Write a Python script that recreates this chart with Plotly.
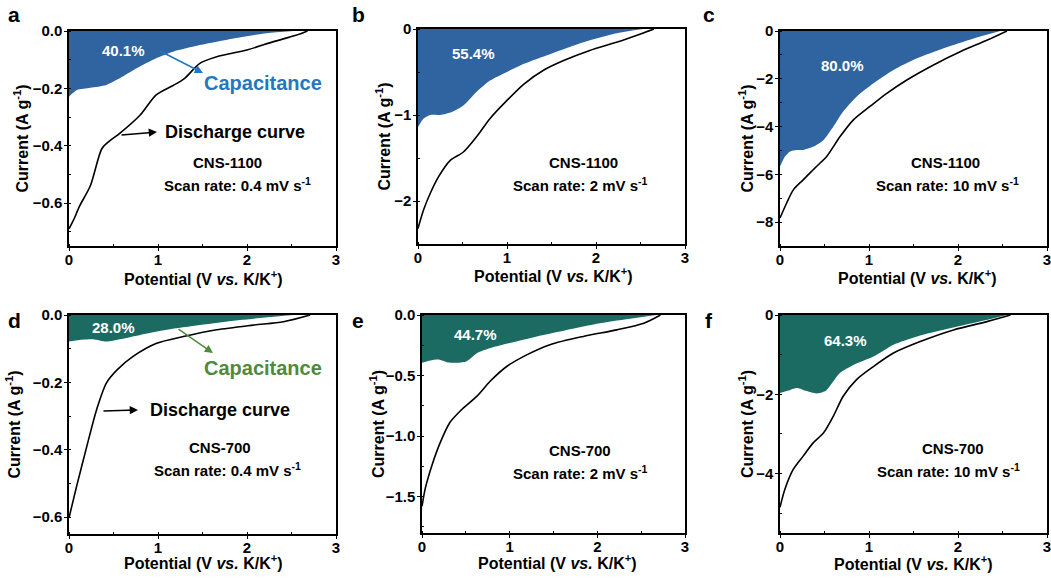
import plotly.graph_objects as go

W, H = 1051, 579

# ---------------- data ----------------
# Panel a: CNS-1100, 0.4 mV/s
a_dis_x = [0, 0.05, 0.12, 0.24, 0.37, 0.45, 0.57, 0.80, 0.98, 1.17, 1.30, 1.47, 1.66, 2.00, 2.30, 2.55, 2.68]
a_dis_y = [-0.69, -0.66, -0.61, -0.54, -0.41, -0.385, -0.357, -0.293, -0.223, -0.19, -0.165, -0.113, -0.09, -0.066, -0.037, -0.015, 0]
a_cap_x = [0, 0.09, 0.24, 0.42, 0.57, 0.76, 0.98, 1.17, 1.47, 1.85, 2.22, 2.52]
a_cap_y = [-0.229, -0.206, -0.198, -0.188, -0.165, -0.13, -0.095, -0.072, -0.049, -0.026, -0.008, 0]

# Panel b: CNS-1100, 2 mV/s
b_dis_x = [0, 0.064, 0.138, 0.23, 0.36, 0.51, 0.66, 0.81, 1.0, 1.19, 1.41, 1.63, 1.93, 2.23, 2.5, 2.65]
b_dis_y = [-2.32, -2.10, -1.91, -1.72, -1.53, -1.43, -1.25, -1.04, -0.83, -0.64, -0.48, -0.37, -0.25, -0.155, -0.058, 0]
b_cap_x = [0, 0.064, 0.14, 0.25, 0.38, 0.51, 0.66, 0.81, 1.0, 1.19, 1.49, 1.86, 2.23, 2.53]
b_cap_y = [-1.14, -1.04, -1.0, -1.0, -0.965, -0.89, -0.73, -0.6, -0.5, -0.405, -0.29, -0.155, -0.05, 0]

# Panel c: CNS-1100, 10 mV/s
c_dis_x = [0, 0.075, 0.15, 0.26, 0.41, 0.525, 0.675, 0.825, 1.01, 1.2, 1.425, 1.725, 2.03, 2.33, 2.55]
c_dis_y = [-7.83, -7.2, -6.65, -6.23, -5.67, -5.25, -4.42, -3.72, -3.16, -2.61, -2.05, -1.42, -0.86, -0.38, 0]
c_cap_x = [0, 0.056, 0.11, 0.19, 0.26, 0.375, 0.49, 0.6, 0.71, 0.86, 1.05, 1.275, 1.54, 1.84, 2.175, 2.475]
c_cap_y = [-5.67, -5.25, -5.05, -4.98, -4.98, -4.84, -4.56, -4.0, -3.37, -2.75, -2.19, -1.63, -1.14, -0.72, -0.31, 0]

# Panel d: CNS-700, 0.4 mV/s
d_dis_x = [0, 0.086, 0.2, 0.31, 0.42, 0.54, 0.72, 0.985, 1.285, 1.66, 2.07, 2.41, 2.71]
d_dis_y = [-0.602, -0.508, -0.39, -0.281, -0.202, -0.163, -0.123, -0.084, -0.064, -0.044, -0.03, -0.02, 0]
d_cap_x = [0, 0.12, 0.27, 0.42, 0.57, 0.8, 1.1, 1.47, 1.92, 2.3, 2.52]
d_cap_y = [-0.079, -0.074, -0.072, -0.079, -0.072, -0.059, -0.044, -0.03, -0.015, -0.005, 0]

# Panel e: CNS-700, 2 mV/s
e_dis_x = [0, 0.038, 0.114, 0.21, 0.32, 0.44, 0.63, 0.78, 0.97, 1.2, 1.46, 1.84, 2.22, 2.53, 2.72]
e_dis_y = [-1.58, -1.43, -1.24, -1.05, -0.886, -0.79, -0.668, -0.545, -0.423, -0.327, -0.245, -0.177, -0.123, -0.068, 0]
e_cap_x = [0, 0.095, 0.19, 0.285, 0.4, 0.51, 0.63, 0.78, 1.0, 1.31, 1.65, 2.03, 2.41, 2.68]
e_cap_y = [-0.395, -0.376, -0.368, -0.39, -0.395, -0.382, -0.314, -0.273, -0.232, -0.177, -0.123, -0.068, -0.027, 0]

# Panel f: CNS-700, 10 mV/s
f_dis_x = [0, 0.056, 0.15, 0.26, 0.375, 0.49, 0.6, 0.71, 0.86, 1.05, 1.275, 1.575, 1.95, 2.325, 2.59]
f_dis_y = [-4.85, -4.39, -3.89, -3.56, -3.22, -2.97, -2.55, -2.05, -1.63, -1.3, -0.96, -0.67, -0.377, -0.167, 0]
f_cap_x = [0, 0.075, 0.19, 0.3, 0.41, 0.51, 0.6, 0.675, 0.825, 1.05, 1.275, 1.54, 1.91, 2.29, 2.55]
f_cap_y = [-1.97, -1.92, -1.84, -1.92, -1.98, -1.92, -1.67, -1.46, -1.26, -1.05, -0.75, -0.54, -0.335, -0.14, 0]

panel_letters = ["a", "b", "c", "d", "e", "f"]
cap_percent = ["40.1%", "55.4%", "80.0%", "28.0%", "44.7%", "64.3%"]
sample_names = ["CNS-1100", "CNS-1100", "CNS-1100", "CNS-700", "CNS-700", "CNS-700"]
scan_rates = ["0.4", "2", "10", "0.4", "2", "10"]
y_ranges = [[-0.75, 0], [-2.5, 0], [-9, 0], [-0.65, 0], [-1.8, 0], [-5.5, 0]]
y_dticks = [0.2, 1, 2, 0.2, 0.5, 2]
y_formats = [".1f", "d", "d", ".1f", ".1f", "d"]
x_title = "Potential (V <i>vs.</i> K/K<sup>+</sup>)"
y_title = "Current (A g<sup>-1</sup>)"

dis_x = [a_dis_x, b_dis_x, c_dis_x, d_dis_x, e_dis_x, f_dis_x]
dis_y = [a_dis_y, b_dis_y, c_dis_y, d_dis_y, e_dis_y, f_dis_y]
cap_x = [a_cap_x, b_cap_x, c_cap_x, d_cap_x, e_cap_x, f_cap_x]
cap_y = [a_cap_y, b_cap_y, c_cap_y, d_cap_y, e_cap_y, f_cap_y]

# ---------------- layout geometry (pixels) ----------------
boxes = [(69, 31, 336, 246), (418, 29, 685, 244), (780, 31, 1047, 246),
         (69, 315, 336, 534), (422, 315, 685, 533), (780, 315, 1047, 533)]
BLUE_FILL = "#2f64a0"
TEAL_FILL = "#1b6b63"
fills = [BLUE_FILL] * 3 + [TEAL_FILL] * 3

FONT = "Arial, Liberation Sans, sans-serif"

def px(x, y):
    return x / W, 1 - y / H

fig = go.Figure()
layout = dict(width=W, height=H, margin=dict(l=0, r=0, t=0, b=0, autoexpand=False),
              paper_bgcolor="white", plot_bgcolor="white", showlegend=False,
              font=dict(family=FONT, color="black", size=13, weight="bold"))
annotations = []

def add_text(x, y, text, size, color="black", xanchor="center", angle=0):
    X, Y = px(x, y)
    annotations.append(dict(x=X, y=Y, xref="paper", yref="paper", text=text, showarrow=False,
                            xanchor=xanchor, yanchor="middle", textangle=angle,
                            font=dict(family=FONT, size=size, color=color, weight="bold")))

xtitle_pos = [(203, 278), (553, 275), (917, 277), (203, 562), (557, 562), (913, 563)]
ytitle_pos = [21, 384, 746, 13, 377, 746]

for i in range(6):
    xn = "x" if i == 0 else f"x{i+1}"
    yn = "y" if i == 0 else f"y{i+1}"
    xa = "xaxis" if i == 0 else f"xaxis{i+1}"
    ya = "yaxis" if i == 0 else f"yaxis{i+1}"
    l, t, r, b = boxes[i]
    fig.add_trace(go.Scatter(x=cap_x[i], y=cap_y[i], mode="lines", fill="tozeroy",
                             fillcolor=fills[i],
                             line=dict(width=0, color=fills[i], shape="spline", smoothing=0.7),
                             xaxis=xn, yaxis=yn, hoverinfo="skip"))
    fig.add_trace(go.Scatter(x=dis_x[i], y=dis_y[i], mode="lines",
                             line=dict(color="black", width=1.6, shape="spline", smoothing=0.8),
                             xaxis=xn, yaxis=yn))
    axcommon = dict(showline=True, linecolor="black", linewidth=1.5, mirror=True,
                    showgrid=False, zeroline=False, ticks="outside", ticklen=3,
                    tickwidth=1.2, tickcolor="black", automargin=False,
                    ticklabeloverflow="allow",
                    tickfont=dict(family=FONT, size=15, color="black", weight="bold"))
    layout[xa] = dict(axcommon, domain=[l / W, r / W], range=[0, 3], dtick=1,
                      anchor=yn, ticklabelstandoff=-4,
                      minor=dict(dtick=0.5, ticks="inside", ticklen=2, tickcolor="black"))
    layout[ya] = dict(axcommon, domain=[1 - b / H, 1 - t / H], range=y_ranges[i],
                      dtick=y_dticks[i], tickformat=y_formats[i], anchor=xn,
                      ticklabelstandoff=-1,
                      minor=dict(dtick=y_dticks[i] / 2, ticks="inside", ticklen=2, tickcolor="black"))
    add_text(*xtitle_pos[i], x_title, 16)
    add_text(ytitle_pos[i], (t + b) / 2, y_title, 16, angle=-90)

letter_pos = [(14, 15), (358, 15), (709, 15), (14, 320), (358, 320), (709, 320)]
pct_pos = [(123, 50), (473, 53), (842, 65), (113, 327), (475, 334), (845, 340)]
name_pos = [(227, 162), (583, 162), (945, 162), (220, 447), (580, 450), (953, 448)]
scan_pos = [(237, 184), (580, 184), (947, 184), (227, 469), (580, 472), (948, 470)]
for i in range(6):
    add_text(*letter_pos[i], panel_letters[i], 21)
    add_text(*pct_pos[i], cap_percent[i], 15, color="white")
    add_text(*name_pos[i], sample_names[i], 15)
    add_text(*scan_pos[i], f"Scan rate: {scan_rates[i]} mV s<sup>-1</sup>", 15)

add_text(263, 83, "Capacitance", 20, color="#1f78c1")
add_text(235, 132, "Discharge curve", 18)
add_text(263, 368, "Capacitance", 20, color="#4f8a3c")
add_text(220, 410, "Discharge curve", 18)

def add_arrow(tail, head, color):
    X, Y = px(*head)
    annotations.append(dict(x=X, y=Y, xref="paper", yref="paper", text="", showarrow=True,
                            ax=tail[0] - head[0], ay=tail[1] - head[1],
                            arrowhead=2, arrowsize=1.1, arrowwidth=1.5, arrowcolor=color))

add_arrow((158, 50), (203, 73), "#1f78c1")
add_arrow((120, 135), (157, 132), "black")
add_arrow((177, 328), (213, 353), "#4f8a3c")
add_arrow((102, 411), (138, 410), "black")

layout["annotations"] = annotations
fig.update_layout(**layout)
fig.write_html("out.html", config={"displayModeBar": False},
               post_script="document.body.style.margin='0px';document.body.style.padding='0px';")
